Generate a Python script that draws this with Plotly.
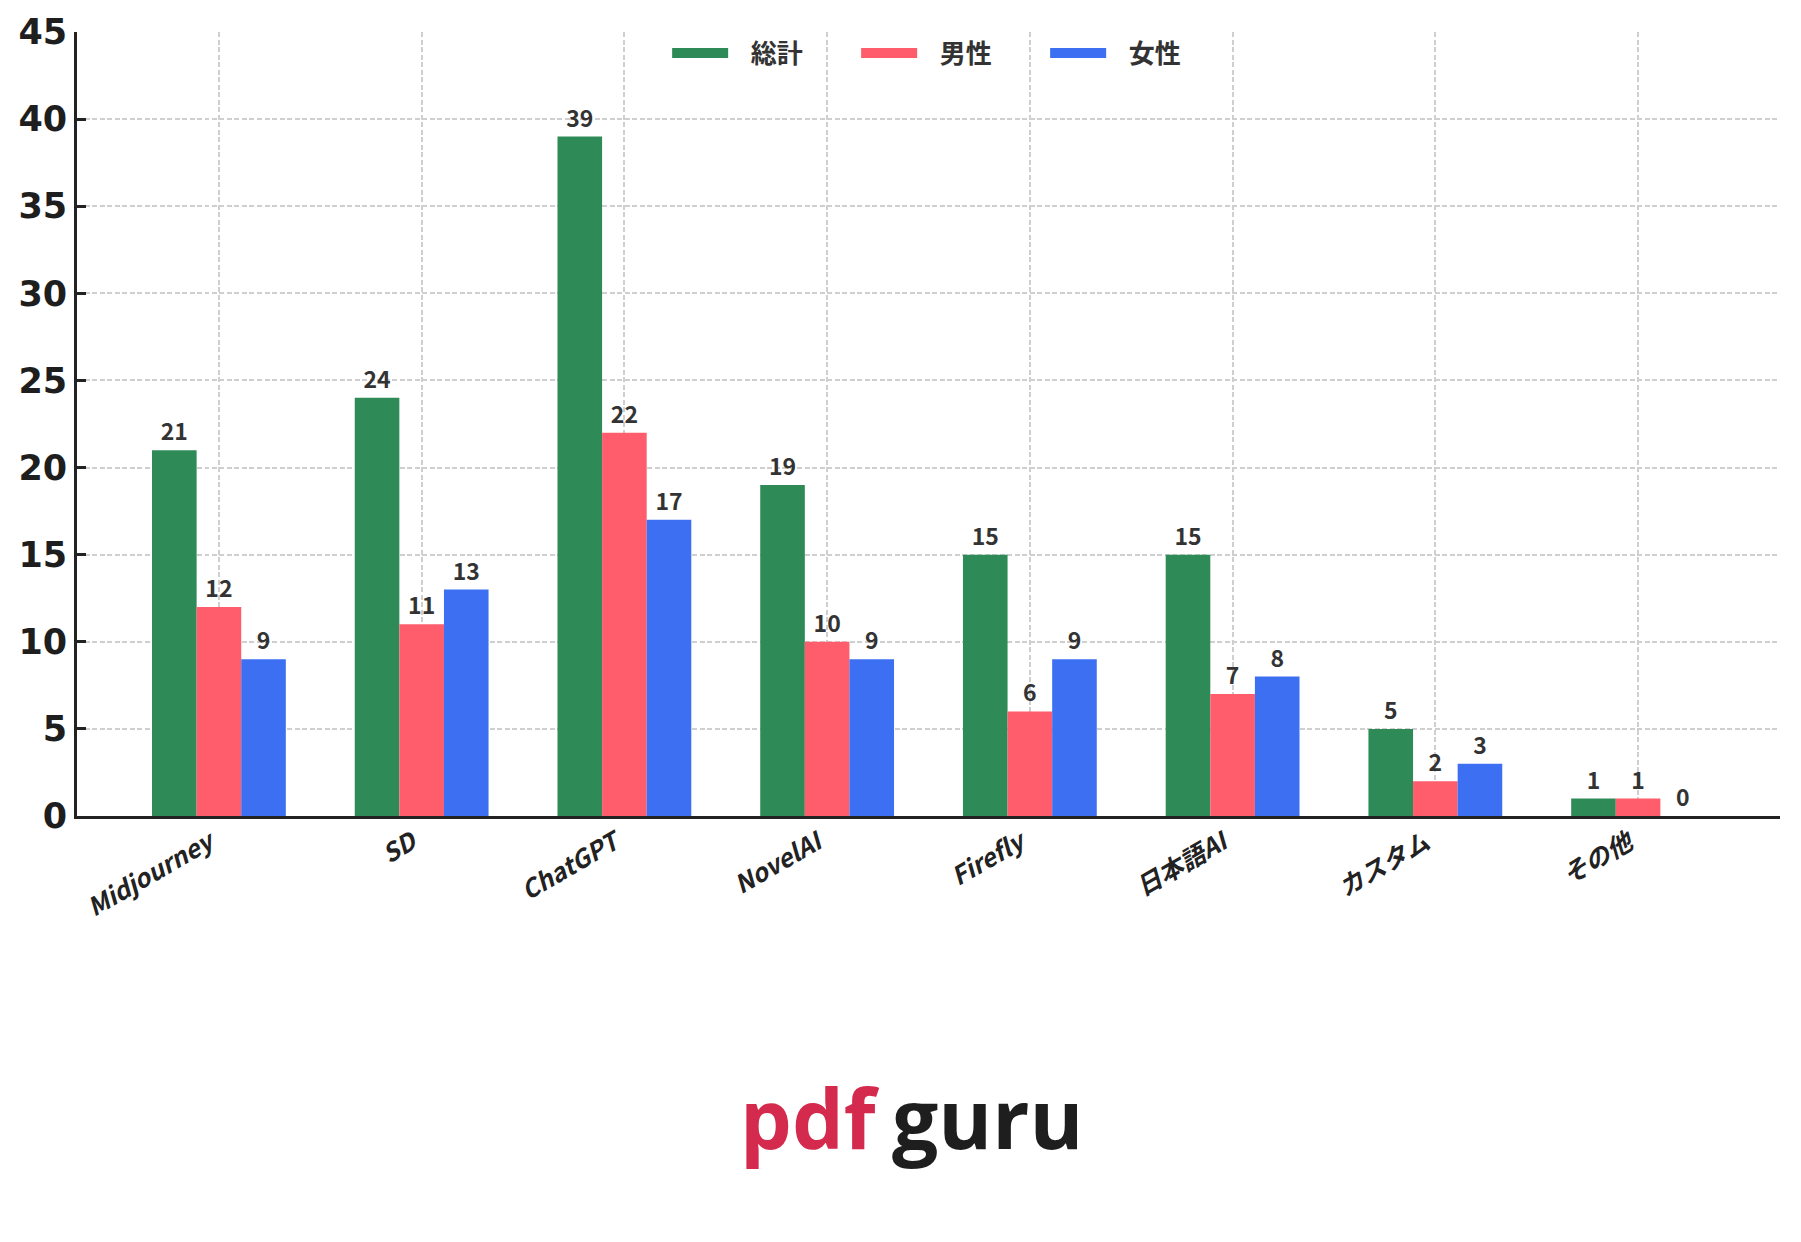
import plotly.graph_objects as go

categories = ["Midjourney", "SD", "ChatGPT", "NovelAI", "Firefly", "日本語AI", "カスタム", "その他"]
total = [21, 24, 39, 19, 15, 15, 5, 1]
male = [12, 11, 22, 10, 6, 7, 2, 1]
female = [9, 13, 17, 9, 9, 8, 3, 0]
series_names = ["総計", "男性", "女性"]
colors = ["#2e8b57", "#ff5c6c", "#3d6ff2"]
y_ticks = [0, 5, 10, 15, 20, 25, 30, 35, 40, 45]

W, H = 1801, 1242
L, R, T, B = 77, 21, 32, 426
pw = W - L - R
ph = H - T - B

def px_x(v):
    return (v - L) / pw

def px_y(v):
    return (H - B - v) / ph

fig = go.Figure()
lab_font = dict(family="Noto Sans CJK JP", size=23, color="#333333", weight="bold")
for name, vals, col in zip(series_names, [total, male, female], colors):
    fig.add_trace(go.Bar(
        x=categories, y=vals, name=name,
        marker=dict(color=col, line=dict(width=22, color="rgba(0,0,0,0)")),
        text=[str(v) for v in vals],
        textposition="outside", textfont=lab_font,
        cliponaxis=False, constraintext="none", showlegend=False,
    ))
# legend proxies (wide swatches)
for name, col in zip(series_names, colors):
    fig.add_trace(go.Scatter(
        x=[None], y=[None], mode="lines", name="\u00a0\u00a0\u00a0" + name,
        line=dict(color=col, width=19), showlegend=True,
    ))

grid = dict(showgrid=True, gridcolor="#cfcfcf", griddash="5px,2.5px", gridwidth=1.5)

fig.update_layout(
    width=W, height=H,
    margin=dict(l=L, r=R, t=T, b=B, pad=0),
    paper_bgcolor="white", plot_bgcolor="white",
    barmode="group", bargap=0.34, bargroupgap=0,
    font=dict(family="Noto Sans CJK JP", color="#222222"),
    legend=dict(
        orientation="h", x=0.513, xanchor="center", y=1.003, yanchor="top",
        font=dict(family="Noto Sans CJK JP", size=26, color="#333333", weight="bold"),
        itemwidth=56, entrywidth=118, bgcolor="rgba(0,0,0,0)", traceorder="normal",
    ),
    xaxis=dict(
        type="category", range=[-0.7, 7.7], automargin=False,
        **grid,
        showline=True, linecolor="#222222", linewidth=2.7,
        ticks="", tickangle=-30, ticklabelshift=-10,
        tickfont=dict(family="Noto Sans CJK JP", size=25, color="#222222", weight="bold", style="italic"),
        zeroline=False,
    ),
    yaxis=dict(
        range=[0, 45], tickvals=y_ticks, ticktext=[str(v) for v in y_ticks], automargin=False,
        **grid,
        showline=True, linecolor="#222222", linewidth=2.7,
        ticks="inside", ticklen=9, tickwidth=2.5, tickcolor="#222222",
        ticklabelstandoff=0,
        tickfont=dict(family="DejaVu Sans", size=35, color="#1e1e1e", weight="bold"),
        zeroline=False,
    ),
)

fig.add_annotation(
    text="pdf", xref="paper", yref="paper", x=px_x(882), y=px_y(1117),
    xanchor="right", yanchor="middle", showarrow=False,
    font=dict(family="Open Sans", size=82, color="#d42a4e", weight="bold"),
)
fig.add_annotation(
    text="guru", xref="paper", yref="paper", x=px_x(890), y=px_y(1117),
    xanchor="left", yanchor="middle", showarrow=False,
    font=dict(family="Open Sans", size=82, color="#1e1e1e", weight="bold"),
)

fig.write_html("out.html", config={"displayModeBar": False},
               post_script="document.body.style.margin='0';")
